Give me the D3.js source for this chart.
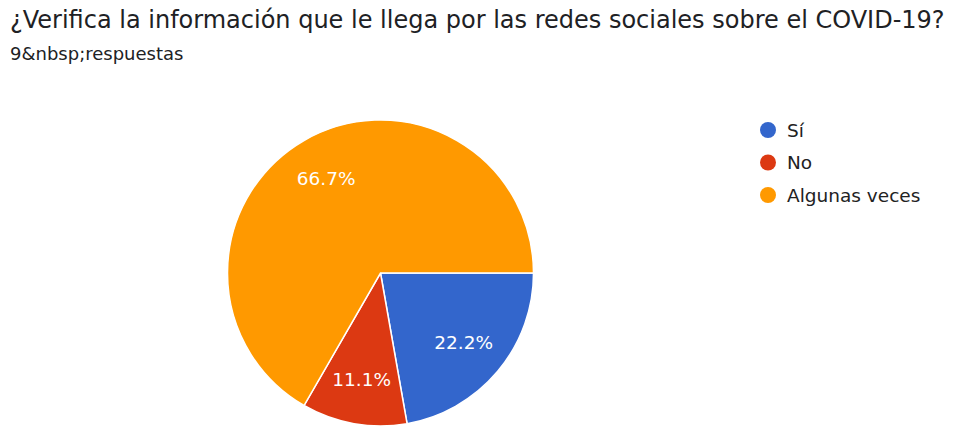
<!DOCTYPE html>
<html>
<head>
<meta charset="utf-8">
<script src="https://cdn.jsdelivr.net/npm/d3@7"></script>
<style>
  body { margin: 0; background: #fff; }
  text { font-family: "DejaVu Sans", "Open Sans", sans-serif; }
</style>
</head>
<body>
<div id="chart"></div>
<script>
// DATA
const title = "¿Verifica la información que le llega por las redes sociales sobre el COVID-19?";
const subtitle = "9&nbsp;respuestas";
const categories = ["Sí", "No", "Algunas veces"];
const counts = [2, 1, 6];
const labels = ["22.2%", "11.1%", "66.7%"];
const colors = ["#3366cc", "#dc3912", "#ff9900"];

// CHART VARIABLES
const width = 957;
const height = 429;
const cx = 380.5;
const cy = 273;
const radius = 153;

const svg = d3.select("#chart")
    .append("svg")
        .attr("width", width)
        .attr("height", height);

// title + subtitle
svg.append("text")
    .attr("x", 10)
    .attr("y", 28)
    .attr("font-size", 24)
    .attr("fill", "#202124")
    .text(title);

svg.append("text")
    .attr("x", 10)
    .attr("y", 60)
    .attr("font-size", 18)
    .attr("fill", "#202124")
    .text(subtitle);

// pie
const pie = d3.pie()
    .sort(null)
    .startAngle(Math.PI / 2)
    .endAngle(Math.PI / 2 + 2 * Math.PI);

const arc = d3.arc()
    .innerRadius(0)
    .outerRadius(radius);

const labelArc = d3.arc()
    .innerRadius(radius * 0.71)
    .outerRadius(radius * 0.71);

const arcs = pie(counts);

const g = svg.append("g")
    .attr("transform", `translate(${cx},${cy})`);

g.selectAll("path")
    .data(arcs)
    .enter()
    .append("path")
        .attr("d", arc)
        .attr("fill", (d, i) => colors[i])
        .attr("stroke", "#fff")
        .attr("stroke-width", 1.5);

g.selectAll("text")
    .data(arcs)
    .enter()
    .append("text")
        .attr("transform", d => `translate(${labelArc.centroid(d)})`)
        .attr("text-anchor", "middle")
        .attr("dominant-baseline", "central")
        .attr("font-size", 18.5)
        .attr("fill", "#fff")
        .text((d, i) => labels[i]);

// legend
const legend = svg.append("g")
    .attr("transform", "translate(768,130)");

const item = legend.selectAll("g")
    .data(categories)
    .enter()
    .append("g")
        .attr("transform", (d, i) => `translate(0,${i * 32.5})`);

item.append("circle")
    .attr("r", 8)
    .attr("fill", (d, i) => colors[i]);

item.append("text")
    .attr("x", 19)
    .attr("dominant-baseline", "central")
    .attr("font-size", 18.5)
    .attr("fill", "#222")
    .text(d => d);
</script>
</body>
</html>
